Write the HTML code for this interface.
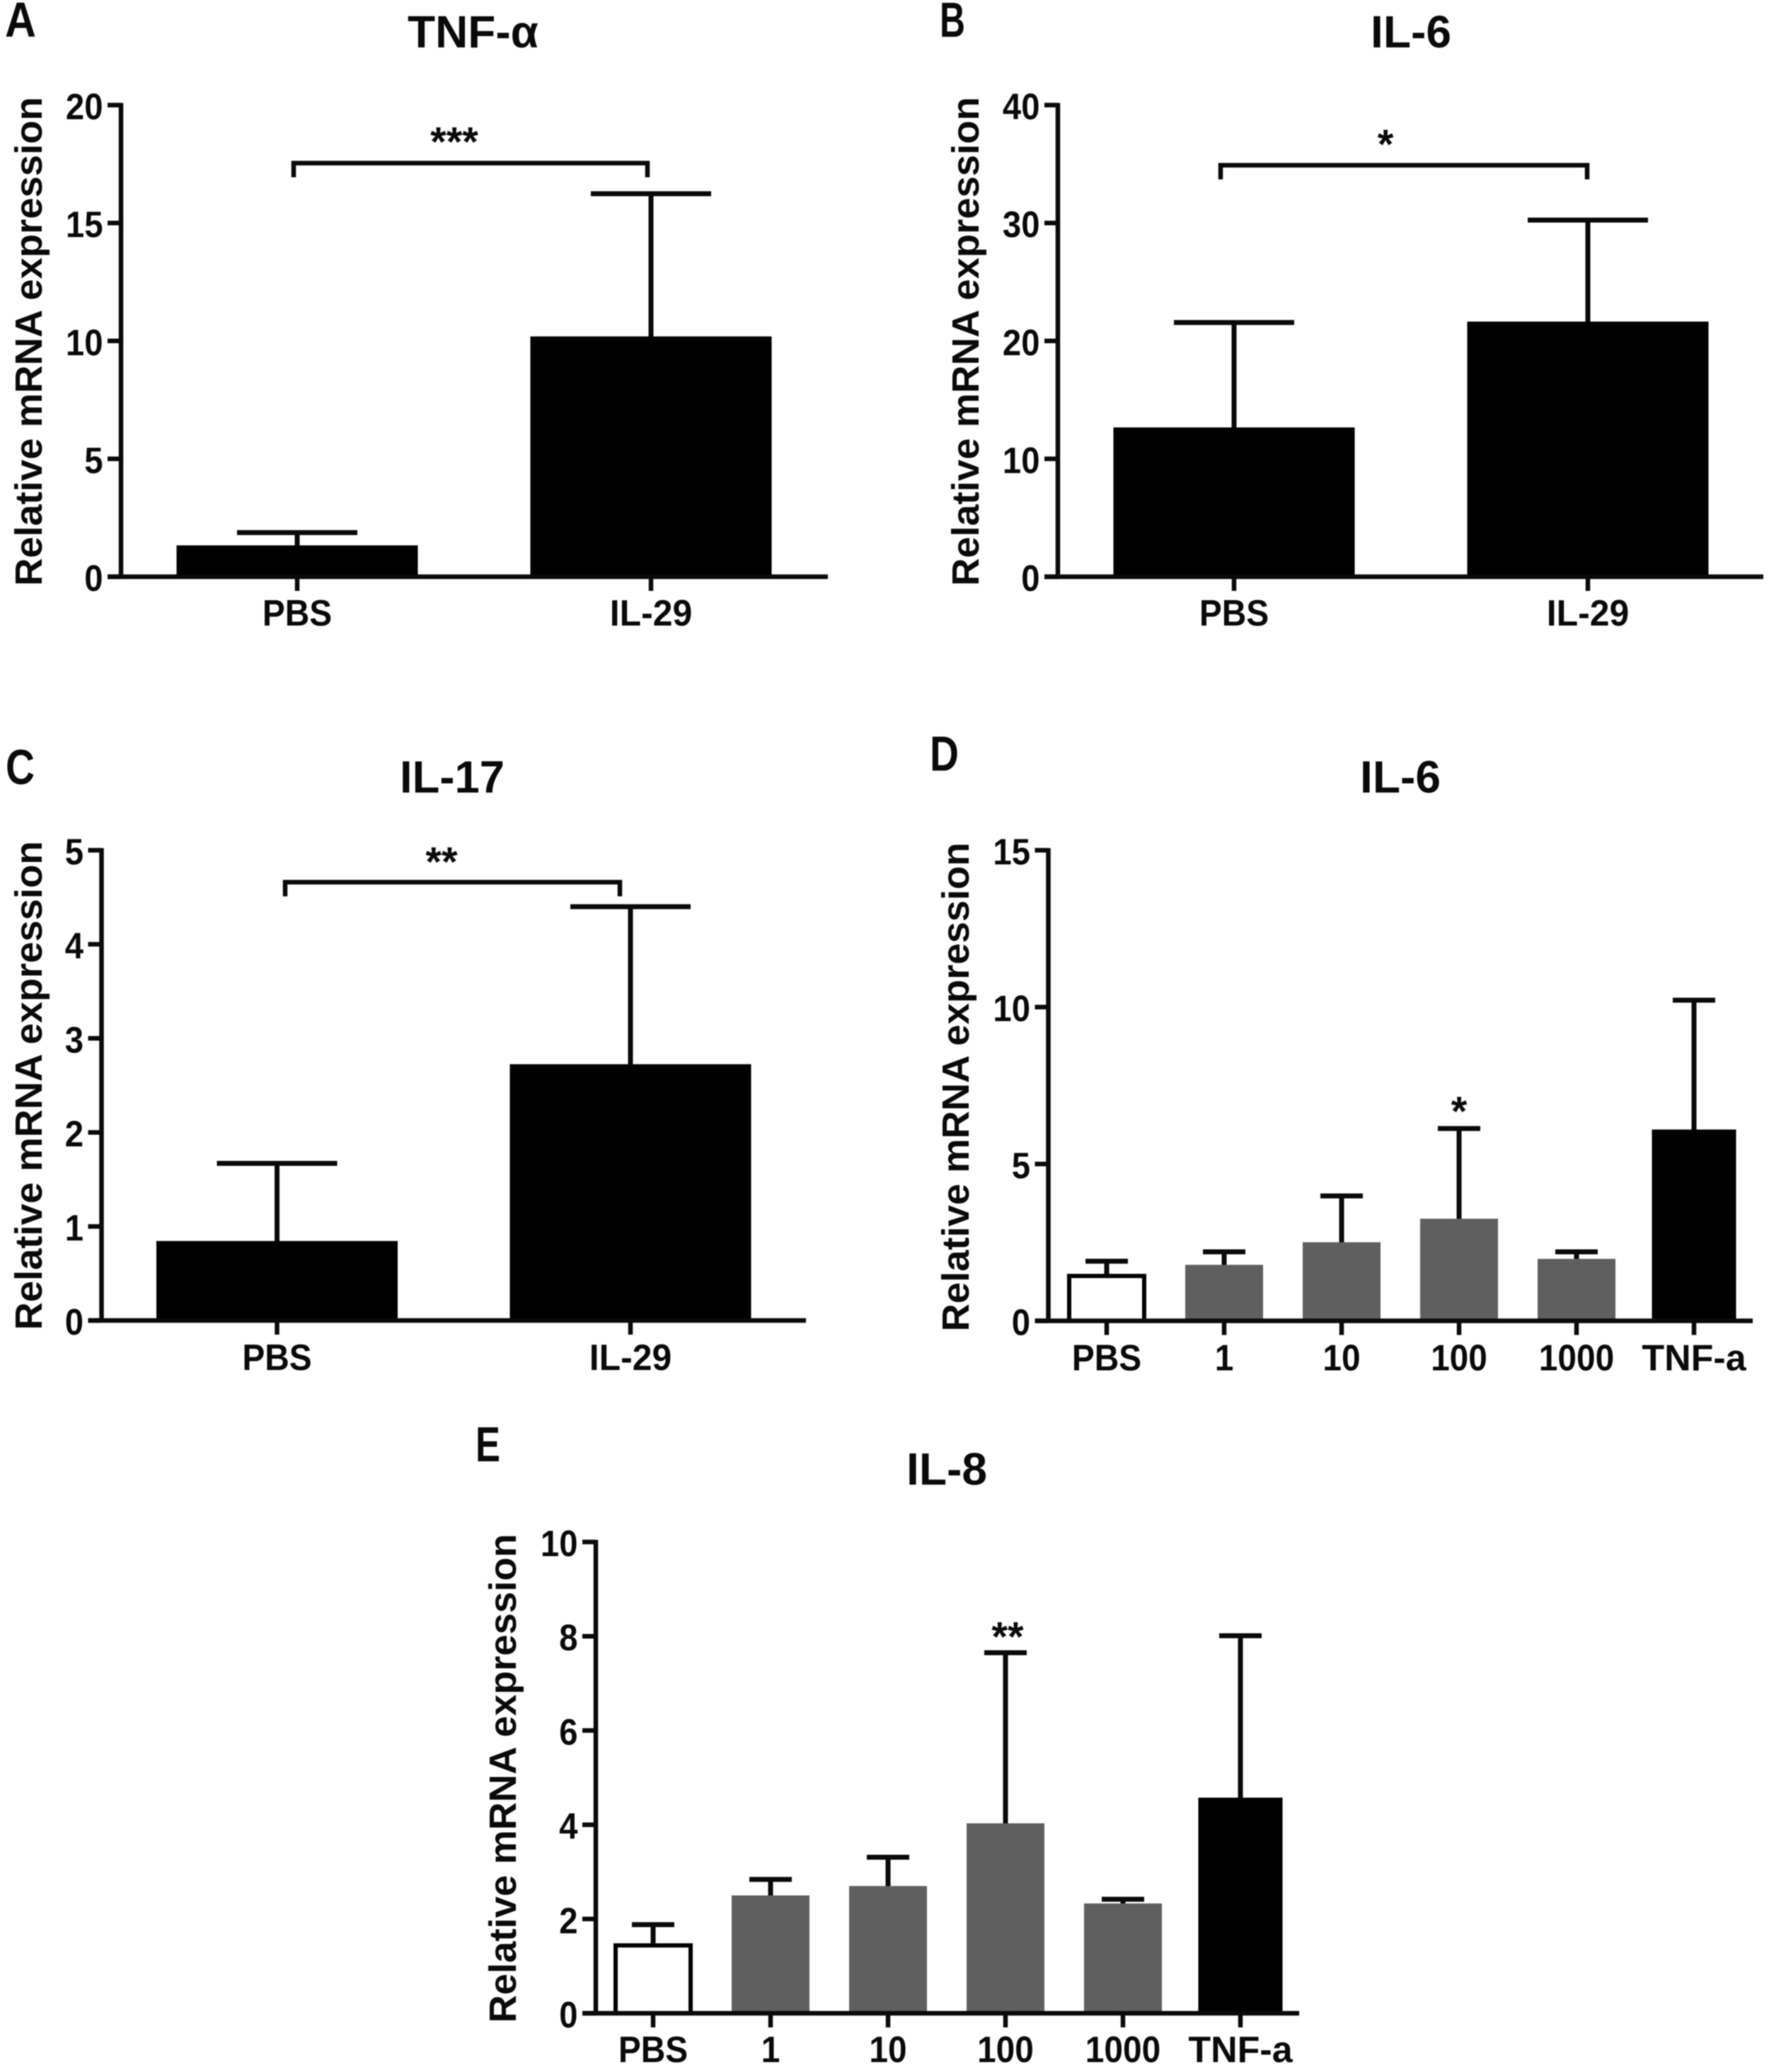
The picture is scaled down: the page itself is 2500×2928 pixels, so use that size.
<!DOCTYPE html>
<html lang="en">
<head>
<meta charset="utf-8">
<title>Relative mRNA expression panels</title>
<style>
html,body{margin:0;padding:0;background:#fff;}
svg{display:block;filter:blur(0.7px);}
text{font-family:"Liberation Sans",Arial,sans-serif;font-weight:bold;fill:#0a0a0a;}
</style>
</head>
<body>
<svg id="figure" xmlns="http://www.w3.org/2000/svg" width="2500" height="2928" viewBox="0 0 2500 2928">
<rect x="0" y="0" width="2500" height="2928" fill="#ffffff"/>
</svg>
<script>
// ---------- Panel A: TNF-alpha ----------
const aCategories = ["PBS", "IL-29"];
const aValues = [1.27, 10.13];
const aErrors = [1.87, 16.24];
const aTicks = [0, 5, 10, 15, 20];
const aBracket = [17.54];

// ---------- Panel B: IL-6 ----------
const bCategories = ["PBS", "IL-29"];
const bValues = [12.54, 21.52];
const bErrors = [21.56, 30.25];
const bTicks = [0, 10, 20, 30, 40];
const bBracket = [34.9];

// ---------- Panel C: IL-17 ----------
const cCategories = ["PBS", "IL-29"];
const cValues = [0.83, 2.71];
const cErrors = [1.67, 4.40];
const cTicks = [0, 1, 2, 3, 4, 5];
const cBracket = [4.66];

// ---------- Panel D: IL-6 dose ----------
const dCategories = ["PBS", "1", "10", "100", "1000", "TNF-a"];
const dValues = [1.43, 1.74, 2.46, 3.21, 1.93, 6.03];
const dErrors = [1.90, 2.20, 3.98, 6.13, 2.20, 10.22];
const dTicks = [0, 5, 10, 15];

// ---------- Panel E: IL-8 dose ----------
const eCategories = ["PBS", "1", "10", "100", "1000", "TNF-a"];
const eValues = [1.44, 2.47, 2.67, 4.00, 2.30, 4.53];
const eErrors = [1.88, 2.84, 3.31, 7.65, 2.42, 8.01];
const eTicks = [0, 2, 4, 6, 8, 10];

const SVG_NS = "http://www.w3.org/2000/svg";
const root = document.getElementById("figure");

function addLine(parent, name, x1, y1, x2, y2, width) {
  const el = document.createElementNS(SVG_NS, "line");
  
  
  el.setAttribute("x1", x1);
  el.setAttribute("y1", y1);
  el.setAttribute("x2", x2);
  el.setAttribute("y2", y2);
  el.setAttribute("stroke", "#0a0a0a");
  el.setAttribute("stroke-width", width);
  parent.appendChild(el);
  return el;
}

function addText(parent, name, str, x, y, size, anchor, length) {
  const el = document.createElementNS(SVG_NS, "text");
  
  
  el.setAttribute("x", x);
  el.setAttribute("y", y);
  el.setAttribute("font-size", size);
  el.setAttribute("text-anchor", anchor);
  if (length) {
    el.setAttribute("textLength", length);
    el.setAttribute("lengthAdjust", "spacingAndGlyphs");
  }
  el.textContent = str;
  parent.appendChild(el);
  return el;
}

function addGroup(parent, name) {
  const el = document.createElementNS(SVG_NS, "g");
  
  
  parent.appendChild(el);
  return el;
}

// glyphs in the reference are slightly narrower than Liberation Bold
function xLabelFactor(c) {
  if (c === "TNF-a") return 1;
  if (c === "IL-29") return 0.96;
  return 0.92;
}

function drawPanel(p) {
  const panel = addGroup(root, p.name);
  const yScale = v => p.y0 - (v / p.yMax) * (p.y0 - p.yTop);
  const xScale = i => p.x0 + i * p.step;

  addText(panel, "panel-letter", p.letter, p.letterX, p.letterY, 70, "start", p.letterW);
  addText(panel, "chart-title", p.title, p.titleX, p.titleY, 64, "middle", p.titleW);

  const yLabel = addText(panel, "y-axis-title", "Relative mRNA expression", 0, 0, 54, "middle", 691);
  yLabel.setAttribute("transform", "translate(" + p.yLabelX + "," + p.yLabelY + ") rotate(-90)");

  // error bars (behind bars)
  p.categories.forEach((c, i) => {
    const x = xScale(i);
    addLine(panel, "error-stem-" + c, x, yScale(p.values[i]), x, yScale(p.errors[i]), 7);
    addLine(panel, "error-cap-" + c, x - p.capHalf, yScale(p.errors[i]), x + p.capHalf, yScale(p.errors[i]), 7);
  });

  // bars
  p.categories.forEach((c, i) => {
    const x = xScale(i);
    const top = yScale(p.values[i]);
    const bar = document.createElementNS(SVG_NS, "rect");
    
    
    const outlined = p.multi && (c === "PBS" || c === "TNF-a");
    const half = p.barWidth / 2;
    if (outlined) {
      const extra = c === "TNF-a" ? 3.5 : 0;
      bar.setAttribute("x", x - half + 2 - extra);
      bar.setAttribute("width", p.barWidth - 4 + 2 * extra);
      bar.setAttribute("y", top);
      bar.setAttribute("height", p.y0 - top);
      bar.setAttribute("fill", c === "PBS" ? "#ffffff" : "#000000");
      bar.setAttribute("stroke", "#000000");
      bar.setAttribute("stroke-width", 6);
    } else {
      bar.setAttribute("x", x - half);
      bar.setAttribute("width", p.barWidth);
      bar.setAttribute("y", top - 2);
      bar.setAttribute("height", p.y0 - top + 2);
      bar.setAttribute("fill", p.multi ? "#5f5f5f" : "#000000");
    }
    panel.appendChild(bar);
  });

  // axes
  addLine(panel, "y-axis-line", p.x0Axis, p.yTop - 3, p.x0Axis, p.y0 + 3, 6.5);
  addLine(panel, "x-axis-line", p.x0Axis - 19, p.y0, p.xEnd, p.y0, 6.5);

  p.ticks.forEach(t => {
    const y = yScale(t);
    addLine(panel, "y-tick-" + t, p.x0Axis - 19, y, p.x0Axis, y, 6.5);
    addText(panel, "y-tick-label-" + t, String(t), p.x0Axis - 25.5, y + 20, 52, "end", String(t).length * 26.3);
  });

  p.categories.forEach((c, i) => {
    const x = xScale(i);
    addLine(panel, "x-tick-" + c, x, p.y0, x, p.y0 + 20, 6.5);
    const label = addText(panel, "x-tick-label-" + c, c, x, p.y0 + p.xLabelDy, 52, "middle");
    const natural = label.getComputedTextLength();
    label.setAttribute("textLength", natural * xLabelFactor(c));
    label.setAttribute("lengthAdjust", "spacingAndGlyphs");
  });

  // significance bracket
  if (p.bracket) {
    const by = yScale(p.bracket[0]);
    const xa = xScale(0) + p.bracketDx[0];
    const xb = xScale(1) + p.bracketDx[1];
    const drop = by + 20;
    const br = document.createElementNS(SVG_NS, "path");
    
    
    br.setAttribute("d", "M" + xa + " " + drop + "V" + by + "H" + xb + "V" + drop);
    br.setAttribute("fill", "none");
    br.setAttribute("stroke", "#0a0a0a");
    br.setAttribute("stroke-width", 6.5);
    panel.appendChild(br);
  }
  // significance stars: starY is the vertical centre of the glyphs
  addText(panel, "significance-stars", p.stars, p.starX, p.starY + 0.48 * 58, 58, "middle");
}

drawPanel({
  name: "panel-a", letter: "A", letterX: 7, letterY: 52, letterW: 44,
  title: "TNF-\u03b1", titleX: 668.5, titleY: 67, titleW: 185,
  yLabelX: 59, yLabelY: 482.5,
  categories: aCategories, values: aValues, errors: aErrors, ticks: aTicks, yMax: 20,
  x0Axis: 171, x0: 420, step: 500, y0: 815, yTop: 148.5, xEnd: 1170,
  barWidth: 341, capHalf: 85, xLabelDy: 69, multi: false,
  bracket: aBracket, bracketDx: [-5, -5], stars: "***", starX: 642, starY: 192.5
});

drawPanel({
  name: "panel-b", letter: "B", letterX: 1328, letterY: 52, letterW: 36,
  title: "IL-6", titleX: 1994, titleY: 67, titleW: 114,
  yLabelX: 1383, yLabelY: 482.5,
  categories: bCategories, values: bValues, errors: bErrors, ticks: bTicks, yMax: 40,
  x0Axis: 1495, x0: 1744, step: 500, y0: 815, yTop: 148.5, xEnd: 2492,
  barWidth: 341, capHalf: 85, xLabelDy: 69, multi: false,
  bracket: bBracket, bracketDx: [-19, -1], stars: "*", starX: 1958, starY: 196
});

drawPanel({
  name: "panel-c", letter: "C", letterX: 8, letterY: 1108, letterW: 41,
  title: "IL-17", titleX: 639, titleY: 1120, titleW: 148,
  yLabelX: 59, yLabelY: 1534,
  categories: cCategories, values: cValues, errors: cErrors, ticks: cTicks, yMax: 5,
  x0Axis: 143.5, x0: 391.5, step: 499.5, y0: 1866, yTop: 1201.5, xEnd: 1139,
  barWidth: 341, capHalf: 85, xLabelDy: 70, multi: false,
  bracket: cBracket, bracketDx: [11.5, -15], stars: "**", starX: 624, starY: 1210
});

drawPanel({
  name: "panel-d", letter: "D", letterX: 1314, letterY: 1089, letterW: 41,
  title: "IL-6", titleX: 1979, titleY: 1120, titleW: 114,
  yLabelX: 1369, yLabelY: 1536,
  categories: dCategories, values: dValues, errors: dErrors, ticks: dTicks, yMax: 15,
  x0Axis: 1481.5, x0: 1564, step: 166, y0: 1866.5, yTop: 1201.5, xEnd: 2477,
  barWidth: 110, capHalf: 30, xLabelDy: 70, multi: true,
  stars: "*", starX: 2062, starY: 1562.5
});

drawPanel({
  name: "panel-e", letter: "E", letterX: 672, letterY: 2065, letterW: 35,
  title: "IL-8", titleX: 1338, titleY: 2098, titleW: 114,
  yLabelX: 729, yLabelY: 2513,
  categories: eCategories, values: eValues, errors: eErrors, ticks: eTicks, yMax: 10,
  x0Axis: 842, x0: 923, step: 166, y0: 2845, yTop: 2179, xEnd: 1836,
  barWidth: 110, capHalf: 30, xLabelDy: 69, multi: true,
  stars: "**", starX: 1424, starY: 2305
});
</script>
</body>
</html>
